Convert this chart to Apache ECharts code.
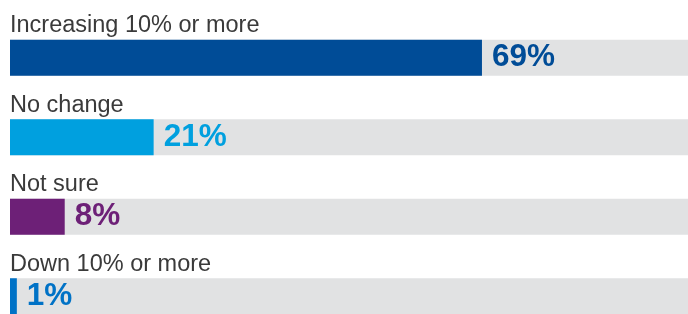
<!DOCTYPE html>
<html>
<head>
<meta charset="utf-8">
<script src="https://cdn.jsdelivr.net/npm/echarts@6/dist/echarts.min.js"></script>
<style>
  html, body { margin: 0; padding: 0; background: #fff; }
  #main { width: 688px; height: 314px; }
</style>
</head>
<body>
<div id="main"></div>
<script>
const chart = echarts.init(document.querySelector('#main'))

const CATEGORIES = ['Increasing 10% or more', 'No change', 'Not sure', 'Down 10% or more']
const VALUES = [69, 21, 8, 1]
const FULL = [100, 100, 100, 100]

const COLORS = ['#004c97', '#00a0df', '#6d2077', '#0072c6']
const FONT = '"Liberation Sans", Arial, Helvetica, sans-serif'

let option = {
  animation: false,
  grid: {
    left: 10,
    top: 18,
    width: 684,
    height: 318,
    outerBoundsMode: 'none'
  },
  xAxis: {
    type: 'value',
    min: 0,
    max: 100,
    show: false
  },
  yAxis: {
    type: 'category',
    data: CATEGORIES,
    inverse: true,
    show: false
  },
  series: [
    {
      // grey track + category title
      type: 'bar',
      data: FULL,
      barWidth: 36,
      barGap: '-100%',
      silent: true,
      itemStyle: { color: '#e1e2e3' },
      label: {
        show: true,
        position: [0, -2],
        align: 'left',
        verticalAlign: 'bottom',
        formatter: p => CATEGORIES[p.dataIndex],
        fontFamily: FONT,
        fontSize: 23.5,
        color: '#3a3a3a'
      }
    },
    {
      type: 'bar',
      data: VALUES.map((v, i) => ({ value: v, itemStyle: { color: COLORS[i] }, label: { color: COLORS[i] } })),
      barWidth: 36,
      label: {
        show: true,
        position: 'right',
        distance: 10,
        formatter: '{c}%',
        fontFamily: FONT,
        fontWeight: 'bold',
        fontSize: 31.5
      }
    }
  ]
}

chart.setOption(option)
</script>
</body>
</html>
